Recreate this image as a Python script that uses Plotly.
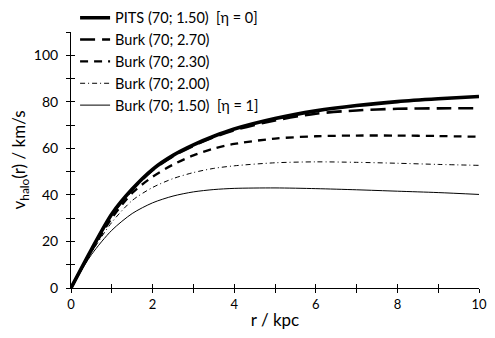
import plotly.graph_objects as go

r = [0, 0.5, 1, 1.5, 2, 2.5, 3, 3.5, 4, 5, 6, 7, 8, 9, 10]
pits_150 = [0, 16.5, 31.8, 42.5, 51.0, 57.0, 61.5, 65.2, 68.3, 72.8, 76.1, 78.4, 80.1, 81.3, 82.3]
burk_270 = [0, 16.3, 31.5, 42.2, 50.6, 56.6, 61.1, 64.8, 67.8, 72.0, 74.9, 76.3, 77.0, 77.2, 77.2]
burk_230 = [0, 15.8, 30.0, 40.8, 47.8, 53.0, 57.0, 59.9, 61.9, 64.2, 65.2, 65.5, 65.5, 65.3, 65.0]
burk_200 = [0, 15.2, 28.2, 37.6, 43.2, 47.0, 49.6, 51.4, 52.5, 53.8, 54.2, 54.0, 53.6, 53.1, 52.7]
burk_150 = [0, 14.3, 24.8, 32.0, 36.6, 39.5, 41.3, 42.3, 42.8, 43.0, 42.7, 42.2, 41.6, 41.0, 40.2]

names = ["PITS (70; 1.50)\u00a0\u00a0[\u03b7 = 0]",
         "Burk (70; 2.70)",
         "Burk (70; 2.30)",
         "Burk (70; 2.00)",
         "Burk (70; 1.50)\u00a0\u00a0[\u03b7 = 1]"]
series = [pits_150, burk_270, burk_230, burk_200, burk_150]
styles = [dict(width=3.6, dash="solid"),
          dict(width=2.6, dash="15px,7px"),
          dict(width=2.3, dash="8px,6px"),
          dict(width=1.0, dash="5px,3px,1px,3px"),
          dict(width=1.0, dash="solid")]

FONT = "Lato, 'Open Sans', sans-serif"

fig = go.Figure()
for i, (nm, ys, st) in enumerate(zip(names, series, styles)):
    fig.add_trace(go.Scatter(x=r, y=ys, mode="lines", name=nm,
                             line=dict(color="black", shape="spline", smoothing=0.8, **st),
                             legendgroup=f"g{i}"))

# invisible trace to carry the overlay axes (inside half of crossing ticks)
fig.add_trace(go.Scatter(x=[None], y=[None], xaxis="x2", yaxis="y2",
                         showlegend=False, hoverinfo="skip"))

# page has an 8px body margin, so the figure is sized to fit inside it
fig.update_layout(
    width=479, height=322,
    margin=dict(l=63, r=8, t=24, b=42, autoexpand=False),
    paper_bgcolor="white", plot_bgcolor="white",
    font=dict(family=FONT, color="black", size=13),
    showlegend=True,
    legend=dict(x=0.01, y=1.118, xanchor="left", yanchor="top",
                bgcolor="rgba(0,0,0,0)", font=dict(size=14.5, family=FONT, color="black"),
                tracegroupgap=0, traceorder="grouped", itemwidth=30),
    xaxis=dict(range=[0, 10], tickvals=[0, 2, 4, 6, 8, 10], ticks="outside", ticklen=4,
               tickcolor="black", showline=True, linecolor="black", linewidth=1,
               showgrid=False, zeroline=False, automargin=False,
               minor=dict(tickvals=[1, 3, 5, 7, 9], ticks="outside", ticklen=4, tickcolor="black"),
               tickfont=dict(size=13),
               title=dict(text="r / kpc", font=dict(size=17))),
    yaxis=dict(range=[0, 110], tickvals=[0, 20, 40, 60, 80, 100], ticks="outside", ticklen=4,
               tickcolor="black", showline=True, linecolor="black", linewidth=1,
               showgrid=False, zeroline=False, automargin=False,
               minor=dict(tickvals=[10, 30, 50, 70, 90, 110], ticks="outside", ticklen=4, tickcolor="black"),
               tickfont=dict(size=14), ticklabelstandoff=5,
               title=dict(text="v<sub>halo</sub>(r) / km/s", font=dict(size=17))),
    xaxis2=dict(overlaying="x", range=[0, 10], tickvals=[0, 2, 4, 6, 8, 10], ticks="inside",
                ticklen=4, tickcolor="black", showticklabels=False, showline=False,
                showgrid=False, zeroline=False, side="bottom", automargin=False,
                minor=dict(tickvals=[1, 3, 5, 7, 9], ticks="inside", ticklen=4, tickcolor="black")),
    yaxis2=dict(overlaying="y", range=[0, 110], tickvals=[0, 20, 40, 60, 80, 100], ticks="inside",
                ticklen=4, tickcolor="black", showticklabels=False, showline=False,
                showgrid=False, zeroline=False, side="left", automargin=False,
                minor=dict(tickvals=[10, 30, 50, 70, 90, 110], ticks="inside", ticklen=4, tickcolor="black")),
)

fig.write_html("out.html")
